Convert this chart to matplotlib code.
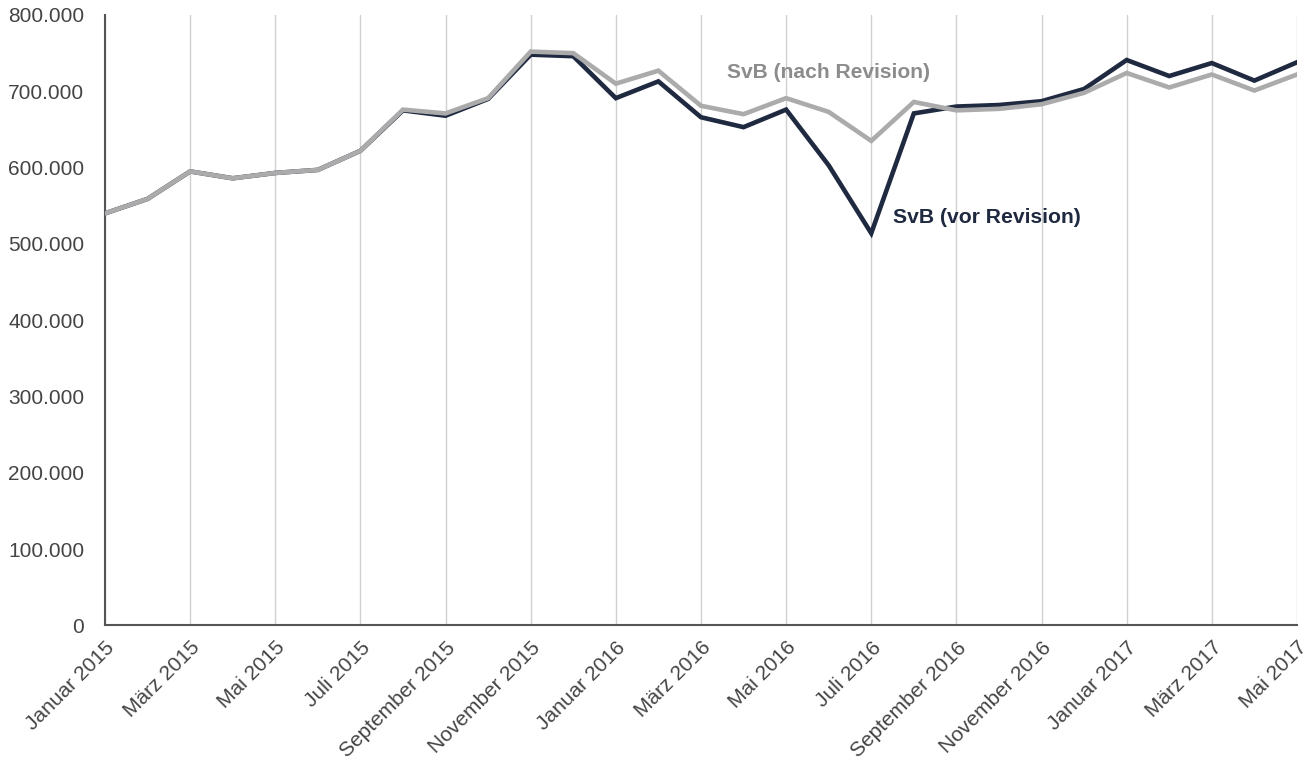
import matplotlib.pyplot as plt
import numpy as np

plt.rcParams['font.family'] = ['Liberation Sans', 'DejaVu Sans']

# Monate Januar 2015 bis Mai 2017
month_names = ['Januar', 'Februar', 'März', 'April', 'Mai', 'Juni', 'Juli',
               'August', 'September', 'Oktober', 'November', 'Dezember']
months = [f'{month_names[i % 12]} {2015 + i // 12}' for i in range(29)]

# SvB vor Revision (Tausend)
vor_revision = [540, 559, 595, 586, 593, 597, 622, 675, 668, 690, 748, 746,
                691, 713, 666, 653, 676, 603, 514, 671, 680, 682, 687, 703,
                741, 720, 737, 714, 738]

# SvB nach Revision (Tausend)
nach_revision = [540, 559, 595, 586, 593, 597, 622, 676, 671, 691, 752, 750,
                 710, 727, 681, 670, 691, 673, 635, 686, 675, 677, 683, 698,
                 724, 705, 722, 701, 722]

x = np.arange(len(months))
vor = np.array(vor_revision) * 1000
nach = np.array(nach_revision) * 1000

fig = plt.figure(figsize=(13.09, 7.64), dpi=100)
ax = fig.add_axes([0.0802, 0.1813, 0.9106, 0.7991])

ax.plot(x, vor, color='#1f2940', lw=3.3, solid_joinstyle='miter', zorder=3)
ax.plot(x, nach, color='#ababab', lw=3.3, solid_joinstyle='miter', zorder=4)

ax.set_xlim(0, len(months) - 1)
ax.set_ylim(0, 800000)

ax.set_xticks(x[::2])
ax.set_xticklabels(months[::2], rotation=45, ha='right', va='top',
                   rotation_mode='anchor', fontsize=15, color='#444444')
ax.set_yticks(np.arange(0, 800001, 100000))
ax.set_yticklabels(['0'] + [f'{v:,}'.replace(',', '.') for v in range(100000, 800001, 100000)],
                   fontsize=15, color='#444444')
ax.tick_params(axis='y', length=0, pad=15)
ax.tick_params(axis='x', length=0, pad=9)

ax.grid(axis='x', color='#d0d0d0', lw=1)
ax.set_axisbelow(True)
for s in ['top', 'right']:
    ax.spines[s].set_visible(False)
for s in ['left', 'bottom']:
    ax.spines[s].set_color('#555555')
    ax.spines[s].set_linewidth(1.5)

ax.text(14.6, 724000, 'SvB (nach Revision)', color='#8c8c8c', fontsize=15.1,
        fontweight='bold', ha='left', va='center')
ax.text(18.5, 534000, 'SvB (vor Revision)', color='#1f2940', fontsize=15.2,
        fontweight='bold', ha='left', va='center')

fig.savefig('out.png', dpi=100)
